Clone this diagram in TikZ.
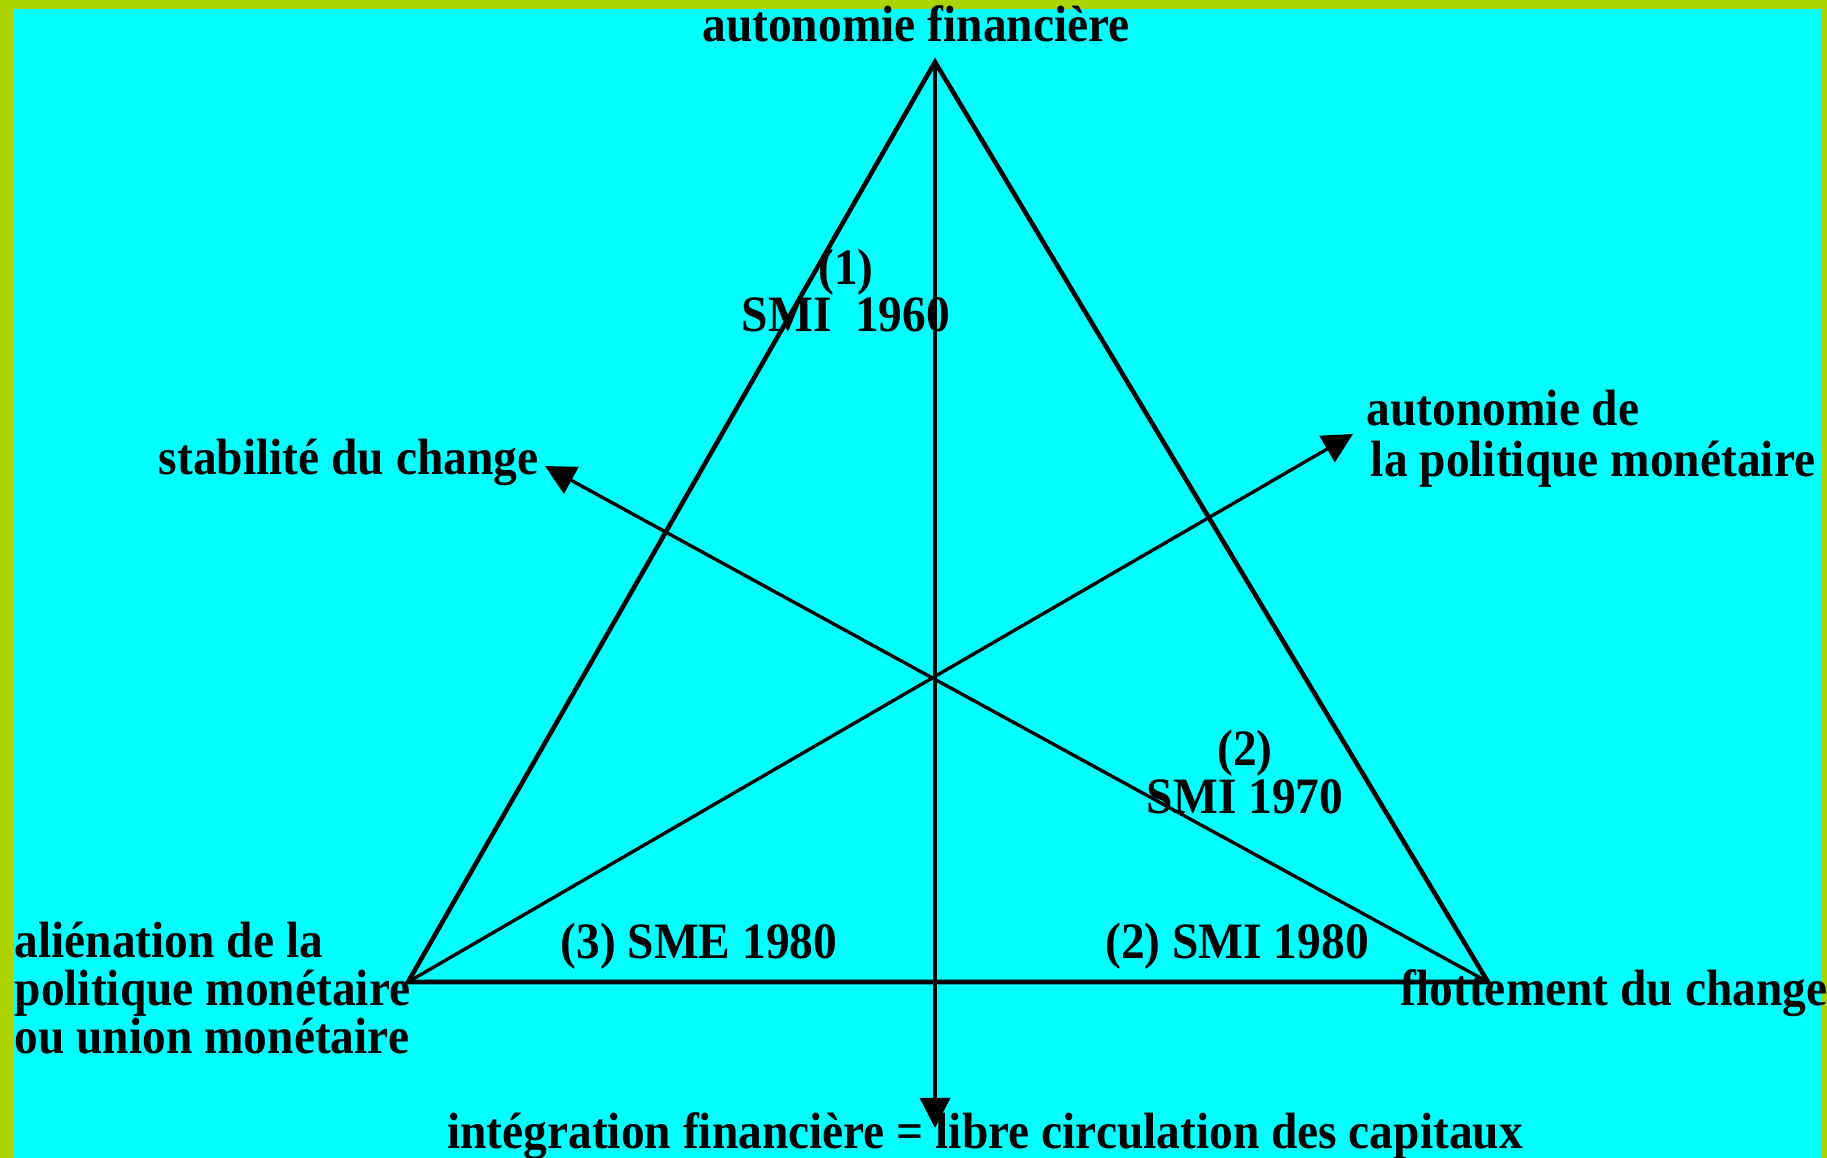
\documentclass[tikz,border=0pt]{standalone}
\usepackage{fontspec}
\setmainfont[FakeStretch=0.93]{Liberation Serif}
\usetikzlibrary{arrows.meta}

\begin{document}
\begin{tikzpicture}[x=0.01cm, y=-0.01cm,
    txt/.style={font=\fontsize{14.5pt}{13.6pt}\selectfont\bfseries, inner sep=0pt},
    side/.style={line width=1.3pt, line join=miter},
    axe/.style={line width=0.95pt, -{Triangle[length=0.3cm,width=0.3cm]}}]
    % Define colours
    \definecolor{frameColour}{HTML}{ADD400}
    \definecolor{fillColour}{HTML}{00FFFF}

    % Background and frame
    \fill[frameColour] (0,0) rectangle (1827,1158);
    \fill[fillColour] (13,9) rectangle (1822,1158);
    \useasboundingbox (0,0) rectangle (1827,1158);

    % Define coordinates for the triangle
    \coordinate (A) at (935,62);
    \coordinate (L) at (408,982);
    \coordinate (R) at (1488,982);

    % Define the arrow ends
    \coordinate (S) at (545,466);
    \coordinate (P) at (1353,434);
    \coordinate (I) at (935,1128);

    % Draw the triangle
    \draw[side] (A) -- (L) -- (R) -- cycle;

    % Draw the three arrows
    \draw[axe] (A) -- (I);
    \draw[axe] (R) -- (S);
    \draw[axe] (L) -- (P);

    % Labels (base of a multi-line node = its last line)
    \node[txt, anchor=base] (fin) at (916,42) {autonomie financière};
    \node[txt, anchor=base, align=center] (smi60) at (846,332) {(1)\\SMI\ \ 1960};
    \node[txt, anchor=base east] (stab) at (539,475) {stabilité du change};
    \node[txt, anchor=base west, align=left] (pol) at (1366,477) {autonomie de\\[1pt]\hspace*{1.2pt}la politique monétaire};
    \node[txt, anchor=base, align=center] (smi70) at (1245,813) {(2)\\SMI 1970};
    \node[txt, anchor=base] (sme80) at (699,958) {(3) SME 1980};
    \node[txt, anchor=base] (smi80) at (1237,958) {(2) SMI 1980};
    \node[txt, anchor=base west, align=left] (alien) at (14,1053) {aliénation de la\\politique monétaire\\ou union monétaire};
    \node[txt, anchor=base west] (flot) at (1400,1005) {flottement du change};
    \node[txt, anchor=base] (integ) at (985,1148) {intégration financière = libre circulation des capitaux};
\end{tikzpicture}
\end{document}
